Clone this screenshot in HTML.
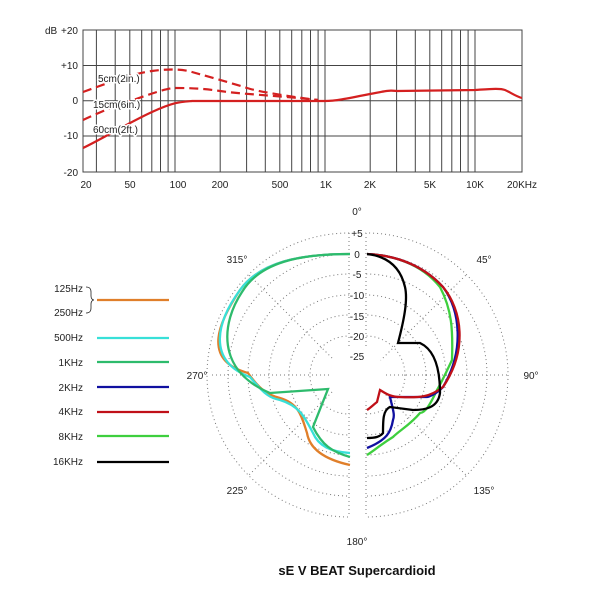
<!DOCTYPE html>
<html><head><meta charset="utf-8"><style>
html,body{margin:0;padding:0;background:#fff}
svg{display:block;font-family:"Liberation Sans",sans-serif}
.halo{paint-order:stroke;stroke:#fff;stroke-width:3px;stroke-linejoin:round}
</style></head><body>
<svg width="600" height="600" viewBox="0 0 600 600" xmlns="http://www.w3.org/2000/svg">
<rect width="600" height="600" fill="#fff"/>
<g stroke="#444" stroke-width="1" fill="none">
<rect x="83" y="30" width="439" height="142"/>
<line x1="83" y1="65.5" x2="522" y2="65.5"/>
<line x1="83" y1="100.7" x2="522" y2="100.7"/>
<line x1="83" y1="136" x2="522" y2="136"/>
<line x1="96.4" y1="30" x2="96.4" y2="172"/><line x1="115.2" y1="30" x2="115.2" y2="172"/><line x1="129.8" y1="30" x2="129.8" y2="172"/><line x1="141.7" y1="30" x2="141.7" y2="172"/><line x1="151.8" y1="30" x2="151.8" y2="172"/><line x1="160.5" y1="30" x2="160.5" y2="172"/><line x1="168.1" y1="30" x2="168.1" y2="172"/><line x1="175" y1="30" x2="175" y2="172"/>
<line x1="220.2" y1="30" x2="220.2" y2="172"/><line x1="246.6" y1="30" x2="246.6" y2="172"/><line x1="265.3" y1="30" x2="265.3" y2="172"/><line x1="279.8" y1="30" x2="279.8" y2="172"/><line x1="291.7" y1="30" x2="291.7" y2="172"/><line x1="301.8" y1="30" x2="301.8" y2="172"/><line x1="310.5" y1="30" x2="310.5" y2="172"/><line x1="318.1" y1="30" x2="318.1" y2="172"/><line x1="325" y1="30" x2="325" y2="172"/>
<line x1="370.2" y1="30" x2="370.2" y2="172"/><line x1="396.6" y1="30" x2="396.6" y2="172"/><line x1="415.3" y1="30" x2="415.3" y2="172"/><line x1="429.8" y1="30" x2="429.8" y2="172"/><line x1="441.7" y1="30" x2="441.7" y2="172"/><line x1="451.8" y1="30" x2="451.8" y2="172"/><line x1="460.5" y1="30" x2="460.5" y2="172"/><line x1="468.1" y1="30" x2="468.1" y2="172"/><line x1="475" y1="30" x2="475" y2="172"/>
</g>
<g fill="none" stroke="#d42020" stroke-width="2.2">
<path d="M83,92 C100,86 130,74 152,71 S185,70 192,72 S235,84 247,88 S300,98 318,100" stroke-dasharray="9,5"/>
<path d="M83,120 C100,112 120,104 130,101 S165,88 175,88 S200,88 220,91 S270,95 318,100" stroke-dasharray="9,5"/>
<path d="M83,148 C100,140 130,122 152,112 S180,102 192,101 L325,101 C335,101 345,99 370,94 S390,91 397,91 L475,90 C490,89 500,88 505,90 S515,96 522,98"/>
</g>
<g font-size="10" fill="#222">
<text x="45" y="34">dB</text>
<g text-anchor="end"><text x="78" y="34">+20</text><text x="78" y="69">+10</text><text x="78" y="104">0</text><text x="78" y="139">-10</text><text x="78" y="176">-20</text></g>
<g text-anchor="middle"><text x="86" y="188">20</text><text x="130" y="188">50</text><text x="178" y="188">100</text><text x="220" y="188">200</text><text x="280" y="188">500</text><text x="326" y="188">1K</text><text x="370" y="188">2K</text><text x="430" y="188">5K</text><text x="475" y="188">10K</text><text x="522" y="188">20KHz</text></g>
<text class="halo" x="98" y="82">5cm(2in.)</text>
<text class="halo" x="93" y="108">15cm(6in.)</text>
<text class="halo" x="93" y="133">60cm(2ft.)</text>
</g>
<defs>
<clipPath id="cl"><rect x="0" y="200" width="349.5" height="360"/></clipPath>
<clipPath id="cr"><rect x="365.5" y="200" width="200" height="360"/></clipPath>
</defs>
<g fill="none" stroke="#777" stroke-width="1" stroke-dasharray="1,3">
<g clip-path="url(#cl)">
<circle cx="349" cy="375" r="142"/><circle cx="349" cy="375" r="121"/><circle cx="349" cy="375" r="101"/><circle cx="349" cy="375" r="80"/><circle cx="349" cy="375" r="60"/><circle cx="349" cy="375" r="39"/>
<line x1="349" y1="375" x2="209" y2="375"/><line x1="349" y1="375" x2="249" y2="275"/><line x1="349" y1="375" x2="249" y2="475"/>
</g>
<g clip-path="url(#cr)">
<circle cx="366" cy="375" r="142"/><circle cx="366" cy="375" r="121"/><circle cx="366" cy="375" r="101"/><circle cx="366" cy="375" r="80"/><circle cx="366" cy="375" r="60"/><circle cx="366" cy="375" r="39"/>
<line x1="366" y1="375" x2="508" y2="375"/><line x1="366" y1="375" x2="466" y2="275"/><line x1="366" y1="375" x2="466" y2="475"/>
</g>
<line x1="349" y1="233" x2="349" y2="517"/><line x1="366" y1="233" x2="366" y2="517"/>
</g>
<circle cx="357" cy="375" r="28" fill="#fff"/>
<rect x="350" y="230" width="15" height="290" fill="#fff"/>
<g font-size="10" fill="#222" text-anchor="middle">
<text x="357" y="237">+5</text><text x="357" y="258">0</text><text x="357" y="278">-5</text><text x="357" y="299">-10</text><text x="357" y="320">-15</text><text x="357" y="340">-20</text><text x="357" y="360">-25</text>
<text x="357" y="215">0°</text><text x="484" y="263">45°</text><text x="531" y="379">90°</text><text x="484" y="494">135°</text><text x="357" y="545">180°</text><text x="237" y="494">225°</text><text x="197" y="379">270°</text><text x="237" y="263">315°</text>
</g>
<g fill="none" stroke-width="2.3">
<path stroke="#e07f2a" d="M350,254 C300,254 260,262 240,290 C220,320 200,360 248,373 C260,390 268,395 280,398 C300,404 302,418 307,433 C309,445 318,458 350,465"/>
<path stroke="#38e0d8" d="M350,254 C300,254 260,262 240,290 C218,320 205,360 250,377 C265,395 270,398 280,400 C300,406 305,418 313,433 C318,445 330,452 350,453"/>
<path stroke="#2dbb6c" d="M350,254 C300,254 260,262 242,292 C222,322 215,370 270,393 L328,389 L313,427 C322,445 332,452 350,457"/>
<path stroke="#3ecf3e" d="M367,254 C390,255 420,262 440,287 C452,310 453,330 452,360 C445,375 440,385 437,390 C430,405 425,413 420,413 C410,425 400,430 393,437 C380,445 375,450 367,455"/>
<path stroke="#1010a0" d="M367,254 C390,255 420,262 443,287 C460,310 465,350 443,387 C435,395 428,397 427,397 L390,397 C393,410 395,415 393,420 C391,432 387,440 367,448"/>
<path stroke="#c01018" d="M367,254 C390,255 420,262 443,287 C462,310 468,350 443,387 C430,397 420,398 400,397 C390,397 385,393 380,390 L377,402 C372,406 370,408 367,410"/>
<path stroke="#000" d="M367,254 C385,256 400,265 405,287 C408,300 404,320 398,343 L420,343 C435,350 440,370 440,393 C438,408 425,410 413,410 L390,407 C383,410 383,420 383,433 C380,437 375,438 367,438"/>
</g>
<g font-size="10" fill="#222" text-anchor="end">
<text x="83" y="292">125Hz</text><text x="83" y="316">250Hz</text>
<text x="83" y="341">500Hz</text><text x="83" y="366">1KHz</text><text x="83" y="391">2KHz</text><text x="83" y="415">4KHz</text><text x="83" y="440">8KHz</text><text x="83" y="465">16KHz</text>
</g>
<path d="M86,287 C90,287 91,289 91,292 L91,296 C91,298 92,300 94,300 C92,300 91,302 91,304 L91,308 C91,311 90,313 86,313" fill="none" stroke="#222" stroke-width="0.8"/>
<g stroke-width="2.2">
<line x1="97" y1="300" x2="169" y2="300" stroke="#e07f2a"/>
<line x1="97" y1="338" x2="169" y2="338" stroke="#38e0d8"/>
<line x1="97" y1="362" x2="169" y2="362" stroke="#2dbb6c"/>
<line x1="97" y1="387" x2="169" y2="387" stroke="#1010a0"/>
<line x1="97" y1="412" x2="169" y2="412" stroke="#c01018"/>
<line x1="97" y1="436" x2="169" y2="436" stroke="#3ecf3e"/>
<line x1="97" y1="462" x2="169" y2="462" stroke="#000"/>
</g>
<text x="357" y="575" font-size="13" font-weight="bold" text-anchor="middle" fill="#111">sE V BEAT Supercardioid</text>
</svg>
</body></html>
